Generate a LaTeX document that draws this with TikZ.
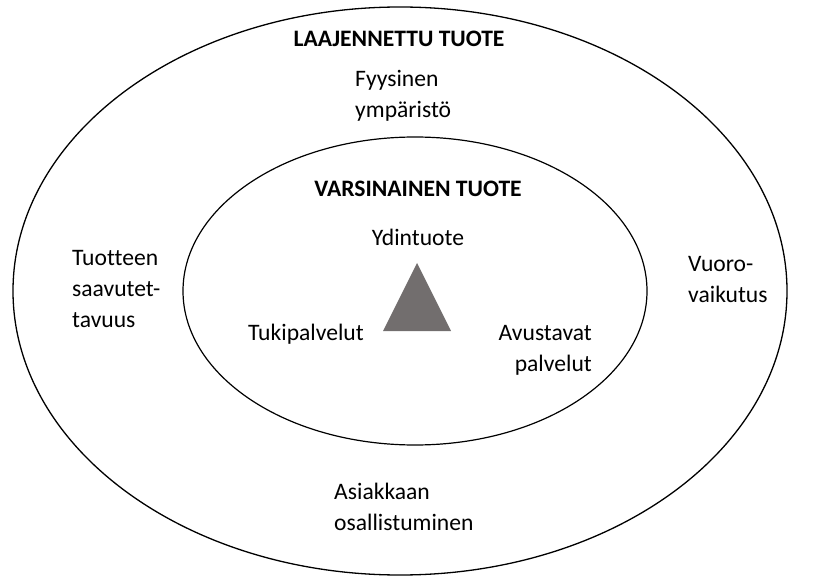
\documentclass[tikz,border=0pt]{standalone}
\usepackage{fontspec}
\setmainfont[Ligatures=NoCommon]{Carlito}
\usepackage{xcolor}
\definecolor{trigray}{RGB}{114,110,110}

\begin{document}
\begin{tikzpicture}[x=1pt,y=-1pt,
    lbl/.style={inner sep=0pt,font=\fontsize{23.6}{31}\selectfont},
    head/.style={lbl,font=\fontsize{23.6}{31}\selectfont\bfseries}]
                \useasboundingbox (0,0) rectangle (816,577);
                \draw[line width=1.3pt] (400,291) ellipse [x radius=387, y radius=284];
                \draw[line width=1.2pt] (415,291) ellipse [x radius=232, y radius=154];
                \fill[trigray] (417,263) -- (451,331) -- (383,331) -- cycle;
                \node[head] (laaj) at (399,39) {LAAJENNETTU TUOTE};
                \node[head] (vars) at (418,189) {VARSINAINEN TUOTE};
                \node[lbl,anchor=west,align=left] (fyys) at (355,96) {Fyysinen\\ympäristö};
                \node[lbl] (ydin) at (418,237) {Ydintuote};
                \node[lbl] (tuki) at (306,334) {Tukipalvelut};
                \node[lbl,anchor=east,align=right] (avus) at (592,350) {Avustavat\\palvelut};
                \node[lbl,anchor=west,align=left] (saav) at (72,289) {Tuotteen\\saavutet-\\tavuus};
                \node[lbl,anchor=west,align=left] (vuor) at (688,280) {Vuoro-\\vaikutus};
                \node[lbl,anchor=west,align=left] (asia) at (334,507) {Asiakkaan\\osallistuminen};
            \end{tikzpicture}
\end{document}
